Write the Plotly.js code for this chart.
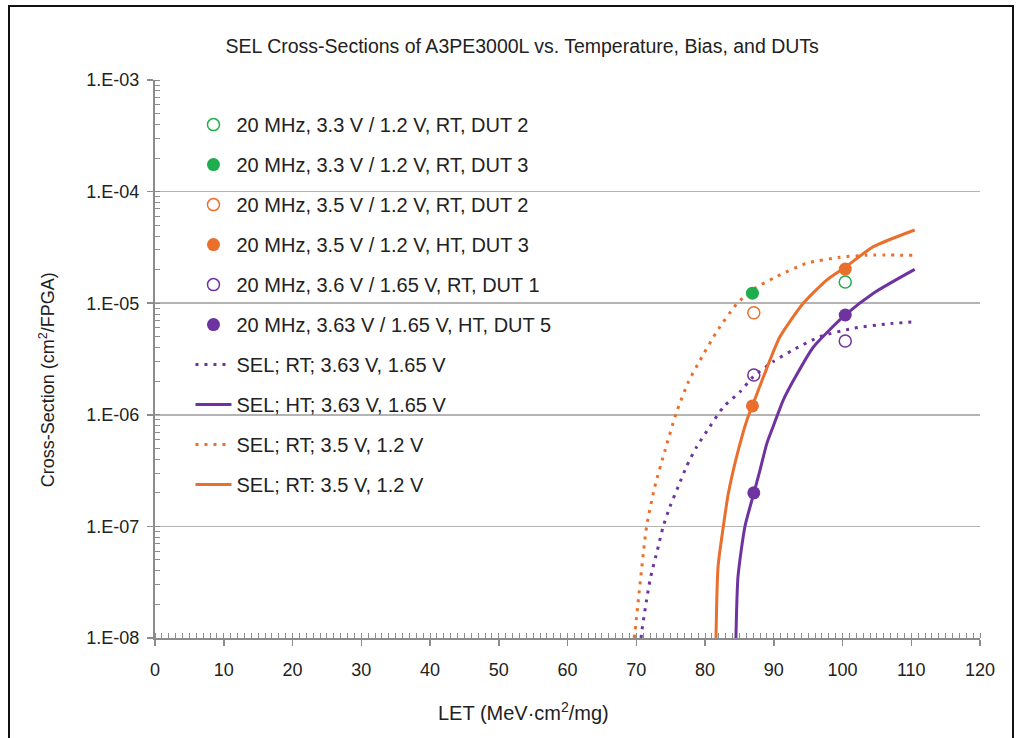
<!DOCTYPE html>
<html>
<head>
<meta charset="utf-8">
<script src="https://cdn.plot.ly/plotly-3.0.1.min.js"></script>
<style>
  html, body { margin: 0; padding: 0; background: #fff; }
  #wrap { position: relative; width: 1018px; height: 738px; overflow: hidden; }
  #chart { width: 1018px; height: 738px; }
  #frame { position: absolute; left: 8px; top: 5px; width: 1002px; height: 760px;
           border: 2px solid #111; pointer-events: none; }
</style>
</head>
<body>
<div id="wrap">
  <div id="chart"></div>
  <div id="frame"></div>
</div>
<script>
// ---- Data ----
// Test points (LET in MeV·cm²/mg, cross-section in cm²/FPGA)
const dut2_33_x = [100.4];
const dut2_33_y = [1.55e-5];
const dut3_33_x = [86.9];
const dut3_33_y = [1.23e-5];
const dut2_35_x = [87.1];
const dut2_35_y = [8.2e-6];
const dut3_35_x = [86.9, 100.4];
const dut3_35_y = [1.2e-6, 2.02e-5];
const dut1_36_x = [87.1, 100.4];
const dut1_36_y = [2.27e-6, 4.58e-6];
const dut5_363_x = [87.1, 100.4];
const dut5_363_y = [2.0e-7, 7.84e-6];

// Fit curves
const selRT363_x = [70.7, 70.8, 72.0, 73.2, 73.9, 74.9, 76.1, 77.3, 78.8, 80.7, 82.7, 85.1, 87.0, 89.9, 92.8, 96.7, 101.6, 106.4, 110.5];
const selRT363_y = [1.0e-8, 1.14e-8, 3.31e-8, 6.58e-8, 9.9e-8, 1.5e-7, 2.27e-7, 3.43e-7, 5.18e-7, 7.82e-7, 1.18e-6, 1.61e-6, 2.19e-6, 2.99e-6, 3.81e-6, 5.01e-6, 5.96e-6, 6.51e-6, 6.83e-6];

const selHT363_x = [84.5, 84.8, 85.8, 87.1, 88.0, 89.0, 89.9, 91.4, 93.0, 95.8, 100.4, 104.5, 110.5];
const selHT363_y = [1.0e-8, 3.54e-8, 9.94e-8, 1.98e-7, 3.2e-7, 5.55e-7, 7.82e-7, 1.36e-6, 2.1e-6, 4.07e-6, 7.84e-6, 1.23e-5, 2.01e-5];

const selRT35_x = [69.7, 69.8, 71.5, 72.7, 74.2, 75.8, 77.6, 79.3, 81.7, 84.6, 87.0, 90.4, 94.8, 99.6, 103.5, 110.5];
const selRT35_y = [1.0e-8, 1.11e-8, 9.9e-8, 2.27e-7, 4.84e-7, 1.03e-6, 1.98e-6, 3.1e-6, 5.55e-6, 9.84e-6, 1.33e-5, 1.73e-5, 2.28e-5, 2.58e-5, 2.69e-5, 2.69e-5];

const selRT35s_x = [81.6, 81.9, 82.8, 83.4, 84.6, 86.1, 86.9, 88.5, 90.9, 94.3, 97.7, 100.4, 104.5, 110.5];
const selRT35s_y = [1.0e-8, 4.35e-8, 1.14e-7, 1.98e-7, 4.21e-7, 8.98e-7, 1.21e-6, 2.19e-6, 5.0e-6, 9.98e-6, 1.61e-5, 2.1e-5, 3.21e-5, 4.53e-5];

// Axis tick labels
const yTickVals = [1e-3, 1e-4, 1e-5, 1e-6, 1e-7, 1e-8];
const yTickText = ['1.E-03', '1.E-04', '1.E-05', '1.E-06', '1.E-07', '1.E-08'];
const xTickVals = [0, 10, 20, 30, 40, 50, 60, 70, 80, 90, 100, 110, 120];

// Legend names
const names = [
  '20 MHz, 3.3 V / 1.2 V, RT, DUT 2',
  '20 MHz, 3.3 V / 1.2 V, RT, DUT 3',
  '20 MHz, 3.5 V / 1.2 V, RT, DUT 2',
  '20 MHz, 3.5 V / 1.2 V, HT, DUT 3',
  '20 MHz, 3.6 V / 1.65 V, RT, DUT 1',
  '20 MHz, 3.63 V / 1.65 V, HT, DUT 5',
  'SEL; RT; 3.63 V, 1.65 V',
  'SEL; HT; 3.63 V, 1.65 V',
  'SEL; RT; 3.5 V, 1.2 V',
  'SEL; RT: 3.5 V, 1.2 V'
];

// ---- Styles ----
const GREEN = '#1fae4e';
const ORANGE = '#ea6f2c';
const PURPLE = '#6e33a0';
const DOTS = '3px,6px';

function lineTrace(x, y, color, dash, idx) {
  return {
    x: x, y: y, type: 'scatter', mode: 'lines', name: names[idx],
    line: { color: color, width: 3, dash: dash, shape: 'spline', smoothing: 0.6 },
    legendgroup: 'g' + idx, legendrank: idx + 1, hoverinfo: 'x+y'
  };
}
function markerTrace(x, y, color, open, idx) {
  return {
    x: x, y: y, type: 'scatter', mode: 'markers', name: names[idx],
    marker: open
      ? { symbol: 'circle-open', size: 12, color: color, line: { width: 1.5, color: color } }
      : { symbol: 'circle', size: 13, color: color },
    legendgroup: 'g' + idx, legendrank: idx + 1
  };
}

const data = [
  lineTrace(selRT363_x, selRT363_y, PURPLE, DOTS, 6),
  lineTrace(selHT363_x, selHT363_y, PURPLE, 'solid', 7),
  lineTrace(selRT35_x, selRT35_y, ORANGE, DOTS, 8),
  lineTrace(selRT35s_x, selRT35s_y, ORANGE, 'solid', 9),
  markerTrace(dut2_33_x, dut2_33_y, GREEN, true, 0),
  markerTrace(dut3_33_x, dut3_33_y, GREEN, false, 1),
  markerTrace(dut2_35_x, dut2_35_y, ORANGE, true, 2),
  markerTrace(dut3_35_x, dut3_35_y, ORANGE, false, 3),
  markerTrace(dut1_36_x, dut1_36_y, PURPLE, true, 4),
  markerTrace(dut5_363_x, dut5_363_y, PURPLE, false, 5)
];

const FONT = 'Liberation Sans, Arial, Helvetica, sans-serif';
const TXT = '#222222';
const layout = {
  width: 1018, height: 738,
  margin: { l: 155, r: 38, t: 80, b: 100 },
  paper_bgcolor: '#ffffff', plot_bgcolor: '#ffffff',
  font: { family: FONT, size: 18, color: TXT },
  showlegend: true,
  title: {
    text: 'SEL Cross-Sections of A3PE3000L vs. Temperature, Bias, and DUTs',
    font: { family: FONT, size: 19.5, color: TXT },
    x: 0.513, xref: 'container', xanchor: 'center',
    y: 0.9377, yref: 'container', yanchor: 'middle'
  },
  xaxis: {
    range: [0, 120], tickvals: xTickVals, ticktext: xTickVals.map(String),
    ticks: 'outside', ticklen: 6, tickwidth: 1.5, tickcolor: '#8c8c8c',
    showline: true, linecolor: '#8c8c8c', linewidth: 2,
    showgrid: false, zeroline: false,
    ticklabelstandoff: 8,
    tickfont: { size: 18, color: TXT },
    minor: { dtick: 1, ticks: 'inside', ticklen: 5, tickwidth: 1, tickcolor: '#8c8c8c', showgrid: false },
    fixedrange: true
  },
  yaxis: {
    type: 'log', range: [-8, -3],
    tickvals: yTickVals, ticktext: yTickText,
    ticks: 'outside', ticklen: 6, tickwidth: 1.5, tickcolor: '#8c8c8c',
    showline: true, linecolor: '#8c8c8c', linewidth: 2,
    showgrid: true, gridcolor: '#b4b4b4', gridwidth: 1.5,
    zeroline: false, ticklabelstandoff: 4,
    tickfont: { size: 18, color: TXT },
    minor: { dtick: 'D1', ticks: 'inside', ticklen: 5, tickwidth: 1, tickcolor: '#8c8c8c', showgrid: false },
    fixedrange: true
  },
  annotations: [
    { text: 'LET (MeV·cm<sup>2</sup>/mg)', xref: 'paper', yref: 'paper',
      x: 0.447, y: -0.1326, xanchor: 'center', yanchor: 'middle', showarrow: false,
      font: { family: FONT, size: 20, color: TXT } },
    { text: 'Cross-Section (cm<sup>2</sup>/FPGA)', xref: 'paper', yref: 'paper',
      x: -0.1309, y: 0.462, xanchor: 'center', yanchor: 'middle', showarrow: false,
      textangle: -90, font: { family: FONT, size: 18, color: TXT } }
  ],
  legend: {
    x: 0.043, xanchor: 'left', y: 0.955, yanchor: 'top',
    bgcolor: 'rgba(0,0,0,0)', borderwidth: 0,
    font: { family: FONT, size: 20, color: TXT },
    traceorder: 'grouped', tracegroupgap: 11, itemwidth: 36
  }
};

Plotly.newPlot('chart', data, layout, { displayModeBar: false, staticPlot: true });
</script>
</body>
</html>
